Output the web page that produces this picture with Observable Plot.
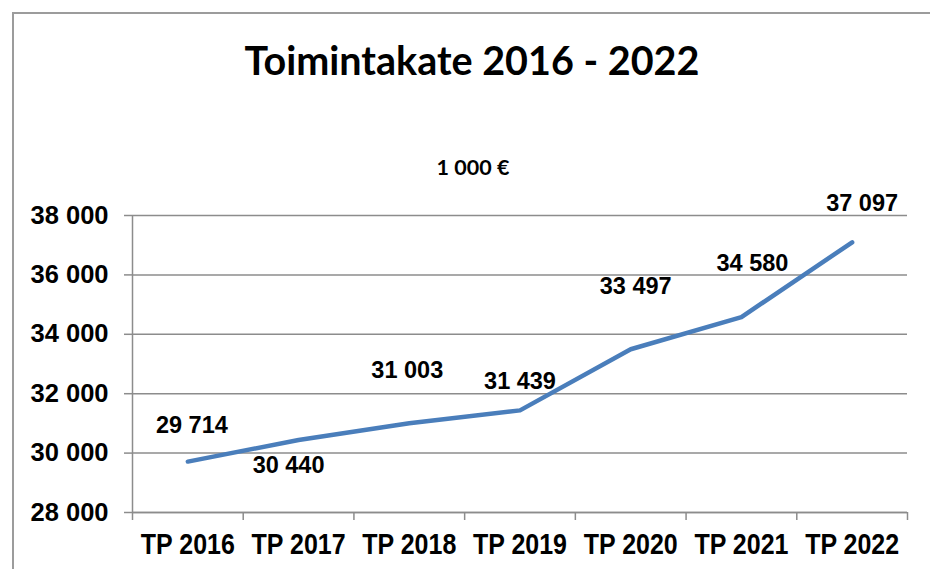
<!DOCTYPE html>
<html>
<head>
<meta charset="utf-8">
<script src="https://cdn.jsdelivr.net/npm/d3@7"></script>
<script src="https://cdn.jsdelivr.net/npm/@observablehq/plot@0.6"></script>
<style>
  html, body { margin: 0; padding: 0; background: #fff; }
  body { width: 930px; height: 569px; position: relative; overflow: hidden; }
  #frame { position: absolute; left: 12px; top: 12px; width: 1000px; height: 1000px;
           border-left: 2px solid #9c9c9c; border-top: 2px solid #9c9c9c; box-sizing: border-box; }
  #title { position: absolute; left: 0; width: 944px; top: 36px; text-align: center;
           font-family: Lato, "Open Sans", sans-serif; font-weight: 700; font-size: 39.5px; color: #000; }
  #unit { position: absolute; left: 0; width: 946px; top: 154px; text-align: center;
          font-family: Lato, "Open Sans", sans-serif; font-weight: 700; font-size: 21.5px; color: #000; }
  #chart { position: absolute; left: 0; top: 0; }
</style>
</head>
<body>
<div id="frame"></div>
<div id="title">Toimintakate 2016 - 2022</div>
<div id="unit">1 000 €</div>
<div id="chart"></div>
<script>
const categories = ["TP 2016", "TP 2017", "TP 2018", "TP 2019", "TP 2020", "TP 2021", "TP 2022"];
const values = [29714, 30440, 31003, 31439, 33497, 34580, 37097];
const yTicks = [28000, 30000, 32000, 34000, 36000, 38000];

// label placement (layout only), [dx, dy] in pixels relative to each point
const labelShift = [[4, -36], [-10, 25], [-2, -53], [0, -29], [5, -63], [11, -54], [10, -39]];

const fmt = v => d3.format(",")(v).replace(/,/g, " ");
const idx = categories.map((c, i) => i);
const data = idx.map(i => ({i, cat: categories[i], v: values[i]}));

const chart = Plot.plot({
  width: 930,
  height: 569,
  marginLeft: 132,
  marginRight: 23,
  marginTop: 215,
  marginBottom: 57,
  style: {background: "transparent", overflow: "visible"},
  x: {type: "linear", domain: [0, categories.length], label: null},
  y: {domain: [yTicks[0], yTicks[yTicks.length - 1]], label: null},
  marks: [
    Plot.gridY(yTicks, {stroke: "#8c8c8c", strokeOpacity: 1, strokeWidth: 1.5}),
    Plot.axisY(yTicks, {tickSize: 8, tickPadding: 16, stroke: "#8c8c8c", strokeWidth: 1.5,
      tickFormat: fmt, fontSize: 25.5, fontWeight: "bold", fill: "#000", label: null,
      fontFamily: "Liberation Sans, Arial, sans-serif"}),
    Plot.axisX(d3.range(categories.length + 1), {tickSize: 8, stroke: "#8c8c8c", strokeWidth: 1.5,
      tickFormat: () => "", label: null}),
    Plot.axisX(idx.map(i => i + 0.5), {tickSize: 0, tickPadding: 21, label: null,
      tickFormat: d => categories[Math.floor(d)], fontSize: 29, fontWeight: "bold", fill: "#000",
      fontFamily: "Liberation Sans, Arial, sans-serif", className: "xlabels"}),
    Plot.ruleX([0], {stroke: "#8c8c8c", strokeWidth: 1.5}),
    Plot.ruleY([yTicks[0]], {stroke: "#8c8c8c", strokeWidth: 1.5}),
    Plot.line(data, {x: d => d.i + 0.5, y: "v", stroke: "#4a7ebb", strokeWidth: 4.5,
      strokeLinecap: "round", strokeLinejoin: "round"}),
    ...data.map(d => Plot.text([d], {x: e => e.i + 0.5, y: "v", text: e => fmt(e.v),
      dx: labelShift[d.i][0], dy: labelShift[d.i][1],
      fontSize: 23.5, fontWeight: "bold", fill: "#000",
      fontFamily: "Liberation Sans, Arial, sans-serif"}))
  ]
});
document.getElementById("chart").appendChild(chart);

// condense x-axis labels to match the narrow reference lettering
d3.select(chart).selectAll(".xlabels text")
  .attr("textLength", 94).attr("lengthAdjust", "spacingAndGlyphs");
</script>
</body>
</html>
